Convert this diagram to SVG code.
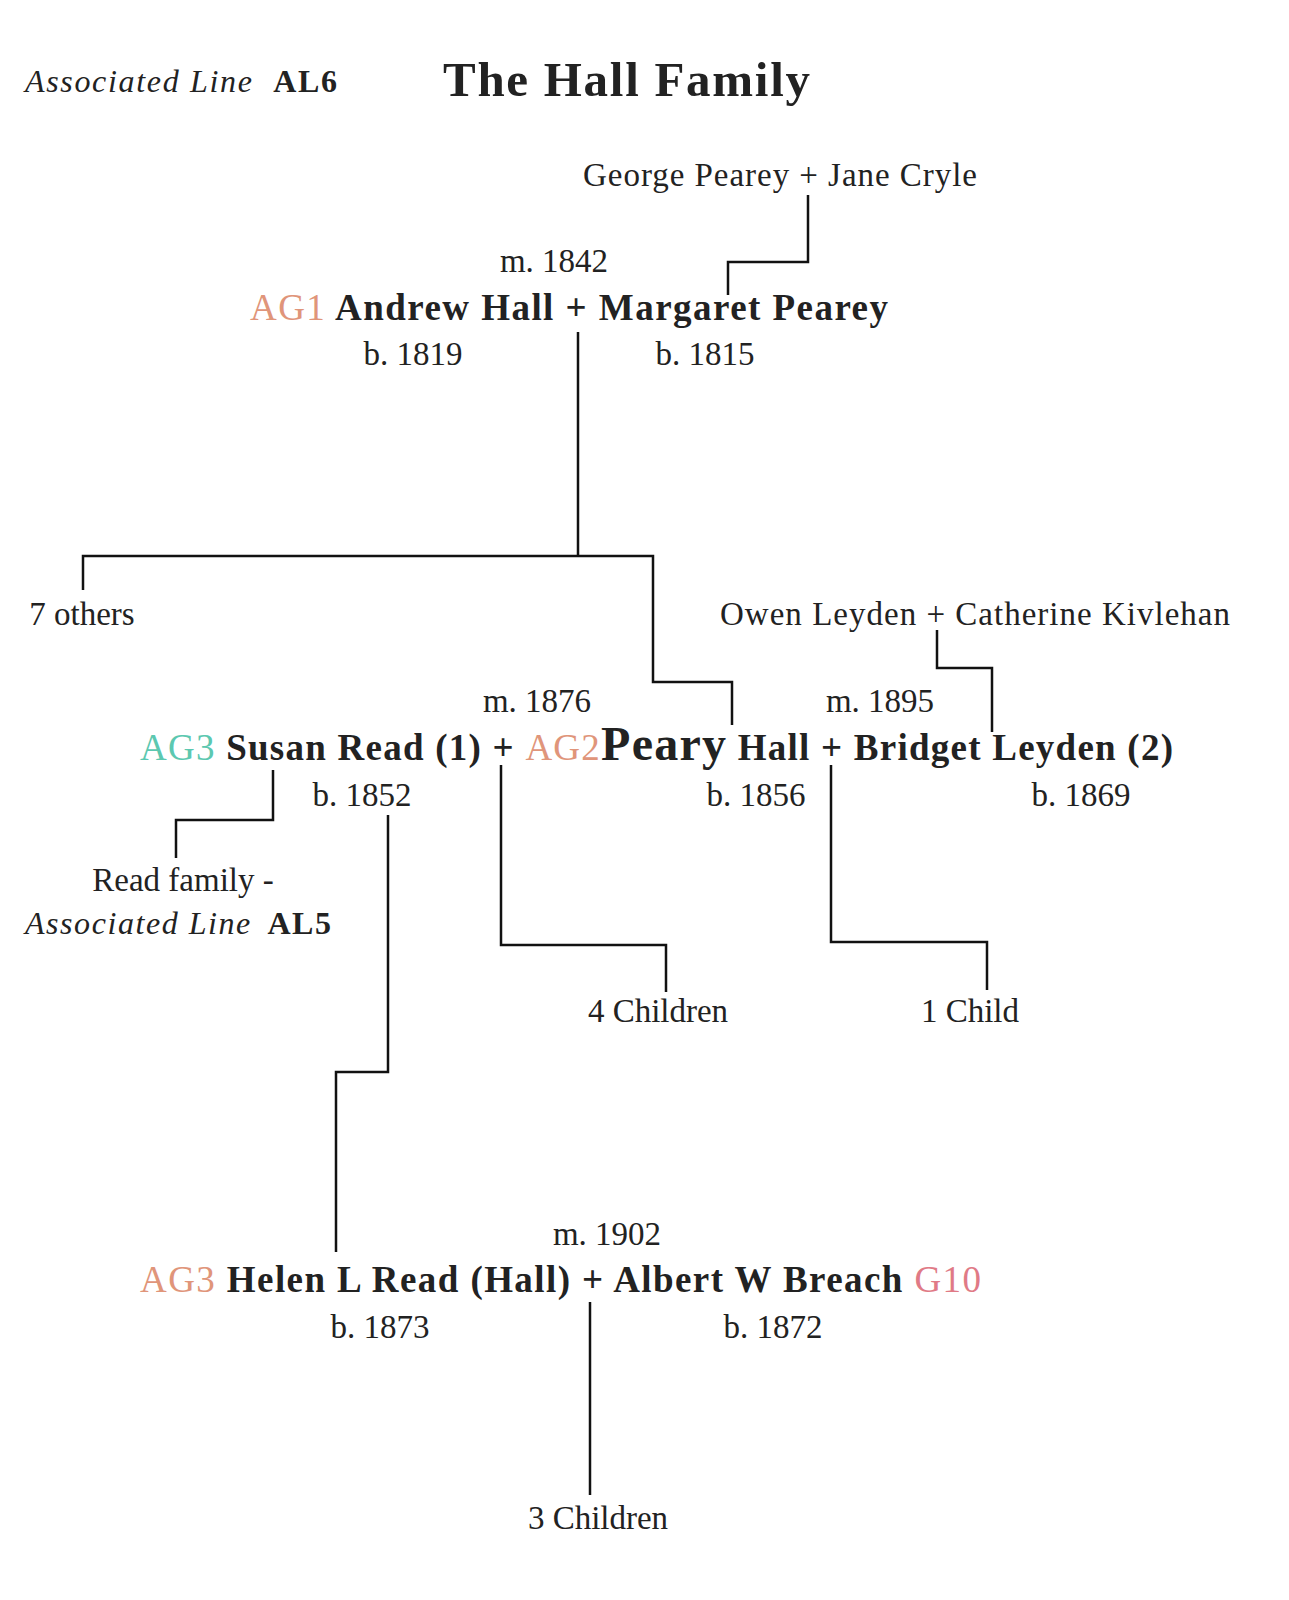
<svg xmlns="http://www.w3.org/2000/svg" width="1289" height="1600" viewBox="0 0 1289 1600">
<style>
text{font-family:"Liberation Serif",serif;fill:#222}
.d{font-size:33px}
.n{font-size:37px;font-weight:bold}
.ag{font-weight:normal;fill:#e0957a}
.tq{font-weight:normal;fill:#5cc8b0}
.g{font-weight:normal;fill:#e07a86}
.it{font-style:italic;font-size:32px}
.ln{fill:none;stroke:#111;stroke-width:2.5}
</style>
<rect width="1289" height="1600" fill="#fff"/>
<g id="header">
<text x="25" y="92" class="it" textLength="312">Associated Line <tspan font-style="normal" font-weight="bold" dx="10">AL6</tspan></text>
<text x="443" y="96" font-size="49" font-weight="bold" textLength="367">The Hall Family</text>
</g>
<g id="connectors" class="ln">
<path d="M808,195V262H728V295"/>
<path d="M578,332V556M83,590V556H653V682H732V725"/>
<path d="M937,630V668H992V732"/>
<path d="M273,770V820H176V858"/>
<path d="M388,815V1072H336V1252"/>
<path d="M501,765V945H666V992"/>
<path d="M831,765V942H987V990"/>
<path d="M590,1302V1495"/>
</g>
<g id="pearey-parents"><text x="583" y="186" class="d" textLength="394">George Pearey + Jane Cryle</text></g>
<g id="andrew-margaret">
<text x="554" y="272" class="d" text-anchor="middle">m. 1842</text>
<text x="250" y="320" class="n" textLength="638"><tspan class="ag">AG1</tspan> Andrew Hall + Margaret Pearey</text>
<text x="413" y="365" class="d" text-anchor="middle">b. 1819</text>
<text x="705" y="365" class="d" text-anchor="middle">b. 1815</text>
</g>
<g id="others"><text x="82" y="625" class="d" text-anchor="middle">7 others</text></g>
<g id="leyden-parents"><text x="720" y="625" class="d" textLength="510">Owen Leyden + Catherine Kivlehan</text></g>
<g id="peary">
<text x="537" y="712" class="d" text-anchor="middle">m. 1876</text>
<text x="880" y="712" class="d" text-anchor="middle">m. 1895</text>
<text x="140" y="760" class="n" textLength="1033"><tspan class="tq">AG3</tspan> Susan Read (1) + <tspan class="ag">AG2</tspan><tspan font-size="48">Peary</tspan> Hall + Bridget Leyden (2)</text>
<text x="362" y="806" class="d" text-anchor="middle">b. 1852</text>
<text x="756" y="806" class="d" text-anchor="middle">b. 1856</text>
<text x="1081" y="806" class="d" text-anchor="middle">b. 1869</text>
</g>
<g id="read-family">
<text x="183" y="891" class="d" text-anchor="middle">Read family -</text>
<text x="25" y="934" class="it" textLength="306">Associated Line <tspan font-style="normal" font-weight="bold" dx="6">AL5</tspan></text>
</g>
<g id="children4"><text x="658" y="1022" class="d" text-anchor="middle">4 Children</text></g>
<g id="child1"><text x="970" y="1022" class="d" text-anchor="middle">1 Child</text></g>
<g id="helen-albert">
<text x="607" y="1245" class="d" text-anchor="middle">m. 1902</text>
<text x="140" y="1292" class="n" textLength="841"><tspan class="ag">AG3</tspan> Helen L Read (Hall) + Albert W Breach <tspan class="g">G10</tspan></text>
<text x="380" y="1338" class="d" text-anchor="middle">b. 1873</text>
<text x="773" y="1338" class="d" text-anchor="middle">b. 1872</text>
</g>
<g id="children3"><text x="598" y="1529" class="d" text-anchor="middle">3 Children</text></g>
</svg>
